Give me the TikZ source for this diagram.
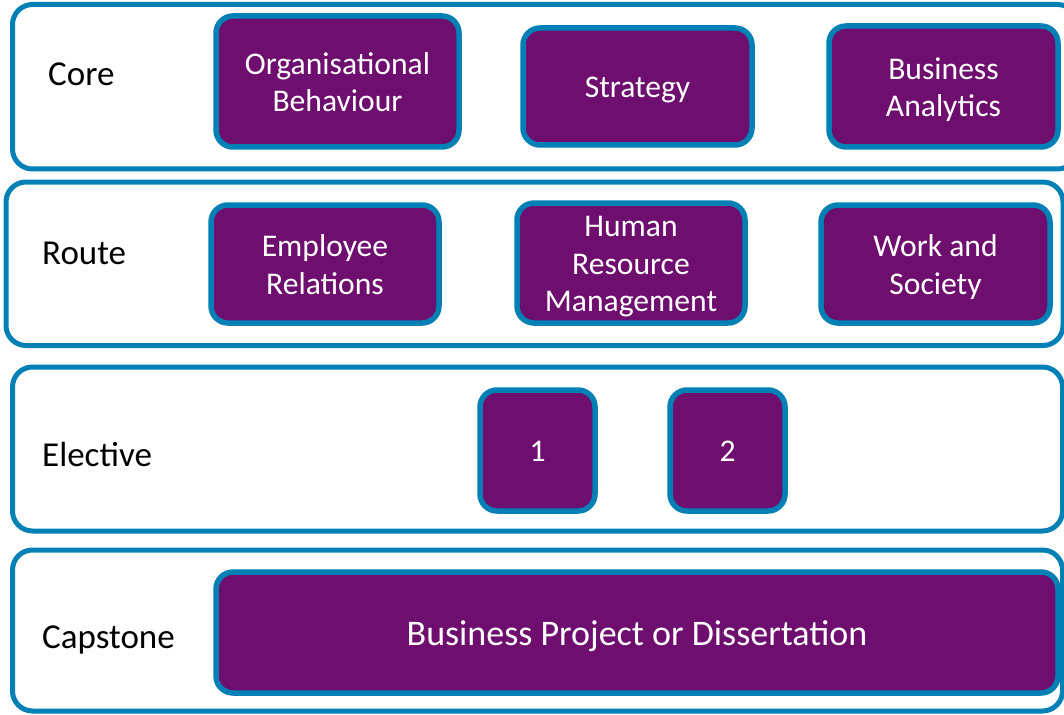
\documentclass[tikz,border=0pt]{standalone}
\usepackage{fontspec}
\setmainfont{Carlito}
\definecolor{rimblue}{RGB}{0,128,180}
\definecolor{modpurple}{RGB}{110,14,110}
\newcommand{\boxstrut}{\rule[-0.23em]{0pt}{1.18em}}
\newcommand{\lineA}[1]{\boxstrut#1}
\tikzset{
  rowbox/.style={draw=rimblue, line width=5pt, rounded corners=20pt, fill=white, inner sep=0pt},
  modbox/.style={draw=rimblue, line width=5.5pt, rounded corners=17pt, fill=modpurple, inner sep=0pt,
     text=white, align=center, font=\fontsize{31.6}{37.5}\selectfont},
  rowlabel/.style={anchor=base west, inner sep=0pt, font=\fontsize{35}{42}\selectfont, text=black}
}
\begin{document}
\begin{tikzpicture}[x=1pt,y=-1pt]
\useasboundingbox (0,0) rectangle (1064,714);
\clip (0,0) rectangle (1064,714);
% rows
\node[rowbox, minimum width=1065pt, minimum height=164.5pt] (core) at (545,86.75) {};
\node[rowbox, minimum width=1057pt, minimum height=163.5pt] (route) at (534.5,263.75) {};
\node[rowbox, minimum width=1050pt, minimum height=164pt] (elective) at (537.5,449) {};
\node[rowbox, minimum width=1050pt, minimum height=161pt] (capstone) at (537.5,630.5) {};
% labels
\node[rowlabel] (lcore) at (48,86) {Core};
\node[rowlabel] (lroute) at (42,264.5) {Route};
\node[rowlabel] (lelective) at (42,466) {Elective};
\node[rowlabel] (lcapstone) at (42,648) {Capstone};
% core modules
\node[modbox, minimum width=243pt, minimum height=131pt] (ob) at (337.5,81.5) {\lineA{Organisational}\\\lineA{Behaviour}};
\node[modbox, minimum width=229pt, minimum height=117pt] (strat) at (637.5,86.5) {\lineA{Strategy}};
\node[modbox, minimum width=229pt, minimum height=121pt] (ba) at (943.5,86.5) {\lineA{Business}\\\lineA{Analytics}};
% route modules
\node[modbox, minimum width=228pt, minimum height=118pt] (er) at (325,264) {\lineA{Employee}\\\lineA{Relations}};
\node[modbox, minimum width=228pt, minimum height=120pt] (hrm) at (631,263) {\lineA{Human}\\\lineA{Resource}\\\lineA{Management}};
\node[modbox, minimum width=229pt, minimum height=118pt] (ws) at (935.5,264) {\lineA{Work and}\\\lineA{Society}};
% electives
\node[modbox, minimum width=115pt, minimum height=121pt] (e1) at (537.5,450.5) {\lineA{1}};
\node[modbox, minimum width=115pt, minimum height=121pt] (e2) at (727.5,450.5) {\lineA{2}};
% capstone
\node[modbox, minimum width=842pt, minimum height=121pt, font=\fontsize{36}{43}\selectfont] (cap) at (637,632.5) {\lineA{Business Project or Dissertation}};
\end{tikzpicture}
\end{document}
